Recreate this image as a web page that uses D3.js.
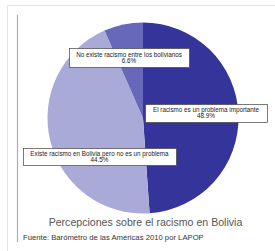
<!DOCTYPE html>
<html><head><meta charset="utf-8">
<script src="https://cdn.jsdelivr.net/npm/d3@7"></script>
<style>body{margin:0;background:#fff}svg{display:block}</style>
</head><body>
<script>
const categories = ["El racismo es un problema importante", "Existe racismo en Bolivia pero no es un problema", "No existe racismo entre los bolivianos"];
const values = [48.9, 44.5, 6.6];
const valueLabels = ["48.9%", "44.5%", "6.6%"];
const colors = ["#34349b", "#aaaad8", "#6868bb"];
const title = "Percepciones sobre el racismo en Bolivia";
const source = "Fuente: Barómetro de las Américas 2010  por LAPOP";

const W = 275, H = 251;
const svg = d3.select("body").append("svg").attr("width", W).attr("height", H);
svg.append("rect").attr("width", W).attr("height", H).attr("fill", "#fff");
// frame lines
svg.append("line").attr("x1", 7).attr("x2", W).attr("y1", 5.5).attr("y2", 5.5).attr("stroke", "#e4e4e4").attr("stroke-width", 1);
svg.append("line").attr("x1", 7.5).attr("x2", 7.5).attr("y1", 5).attr("y2", H).attr("stroke", "#e4e4e4").attr("stroke-width", 1);
svg.append("line").attr("x1", 17.5).attr("x2", 17.5).attr("y1", 15).attr("y2", 242).attr("stroke", "#aeaac6").attr("stroke-width", 1.2);

const cx = 143, cy = 118, r = 95.5;
const pie = d3.pie().sort(null).value(d => d)(values);
const arc = d3.arc().innerRadius(0).outerRadius(r);
const g = svg.append("g").attr("transform", `translate(${cx},${cy})`);
g.selectAll("path").data(pie).join("path").attr("d", arc).attr("fill", (d, i) => colors[i]);

// label boxes
const boxes = [
  {x: 145, y: 104, w: 122, h: 18},
  {x: 23, y: 148, w: 153, h: 17},
  {x: 69, y: 48, w: 120, h: 19}
];
const lg = svg.append("g").attr("font-family", "Liberation Sans, Arial, sans-serif").attr("font-size", 6.3).attr("fill", "#222");
boxes.forEach((b, i) => {
  lg.append("rect").attr("x", b.x + 0.5).attr("y", b.y + 0.5).attr("width", b.w).attr("height", b.h)
    .attr("fill", "#fff").attr("stroke", "#444").attr("stroke-width", 0.7);
  lg.append("text").attr("x", b.x + b.w / 2).attr("y", b.y + b.h / 2 - 0.8).attr("text-anchor", "middle").text(categories[i]);
  lg.append("text").attr("x", b.x + b.w / 2).attr("y", b.y + b.h / 2 + 5.4).attr("text-anchor", "middle").text(valueLabels[i]);
});

svg.append("text").attr("x", 145.5).attr("y", 226).attr("text-anchor", "middle")
  .attr("font-family", "Liberation Sans, Arial, sans-serif").attr("font-size", 10.6).attr("fill", "#555").text(title);
svg.append("text").attr("x", 23).attr("y", 240)
  .attr("font-family", "Liberation Sans, Arial, sans-serif").attr("font-size", 7.7).attr("fill", "#333").text(source);
</script>
</body></html>
